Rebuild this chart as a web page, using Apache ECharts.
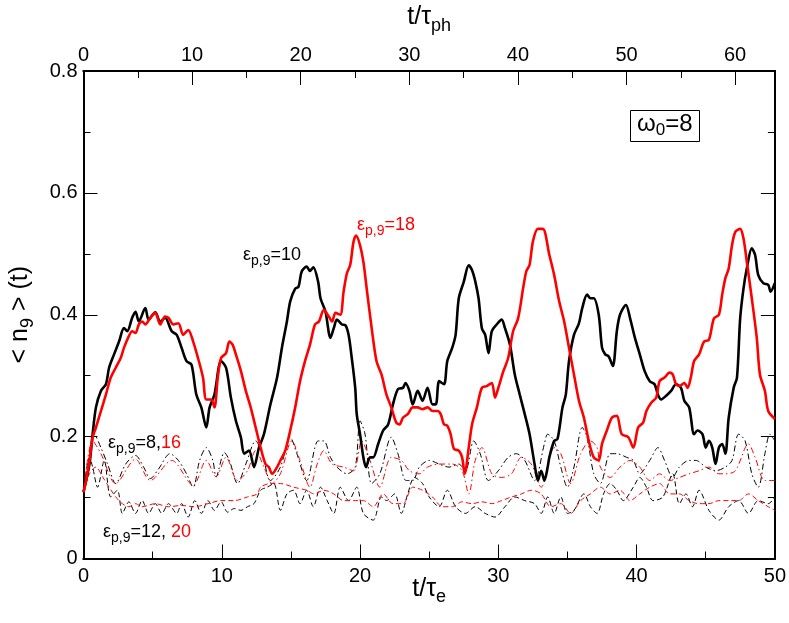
<!DOCTYPE html>
<html>
<head>
<meta charset="utf-8">
<script src="https://cdn.jsdelivr.net/npm/echarts@6/dist/echarts.min.js"></script>
<style>
  html, body { margin: 0; background: #fff; }
  #chart { width: 789px; height: 623px; }
</style>
</head>
<body>
<div id="chart"></div>
<script>
// <n_9>(t), pairs of [t/tau_e, value]
var eps10 = [[0,0.109],[0.43,0.155],[0.66,0.204],[0.9,0.248],[1.26,0.275],[1.62,0.286],[1.85,0.313],[2.21,0.335],[2.57,0.356],[2.93,0.378],[3.16,0.373],[3.52,0.395],[3.76,0.405],[4.0,0.389],[4.47,0.411],[4.71,0.392],[5.19,0.404],[5.55,0.389],[5.9,0.395],[6.38,0.373],[6.74,0.367],[7.09,0.346],[7.45,0.324],[7.81,0.318],[8.16,0.269],[8.52,0.248],[8.88,0.215],[9.12,0.248],[9.47,0.269],[9.95,0.324],[10.31,0.313],[10.66,0.264],[11.02,0.226],[11.38,0.199],[11.62,0.172],[11.97,0.177],[12.33,0.15],[12.69,0.182],[13.05,0.204],[13.52,0.253],[14.0,0.297],[14.35,0.346],[14.71,0.389],[14.95,0.422],[15.31,0.443],[15.55,0.446],[15.78,0.471],[16.14,0.479],[16.38,0.472],[16.62,0.478],[16.97,0.454],[17.14,0.427],[17.5,0.405],[17.86,0.362],[18.1,0.378],[18.33,0.392],[18.69,0.384],[18.93,0.383],[19.17,0.367],[19.4,0.329],[19.65,0.28],[19.76,0.237],[20.0,0.204],[20.24,0.166],[20.43,0.15],[20.72,0.166],[20.95,0.166],[21.31,0.188],[21.67,0.21],[22.03,0.22],[22.38,0.253],[22.74,0.278],[23.1,0.28],[23.29,0.288],[23.57,0.275],[23.81,0.253],[24.17,0.275],[24.52,0.259],[24.88,0.28],[25.24,0.253],[25.48,0.253],[25.72,0.291],[26.07,0.286],[26.31,0.324],[26.67,0.346],[26.91,0.367],[27.14,0.427],[27.5,0.454],[27.86,0.481],[28.1,0.473],[28.34,0.454],[28.57,0.427],[28.81,0.378],[29.05,0.367],[29.29,0.337],[29.53,0.373],[29.88,0.384],[30.24,0.392],[30.48,0.378],[30.84,0.351],[31.19,0.302],[31.55,0.269],[31.91,0.237],[32.26,0.204],[32.62,0.155],[32.86,0.128],[33.1,0.144],[33.33,0.128],[33.57,0.15],[33.69,0.166],[34.04,0.193],[34.28,0.196],[34.64,0.248],[34.88,0.269],[35.11,0.324],[35.47,0.367],[35.83,0.386],[36.07,0.411],[36.42,0.433],[36.66,0.427],[36.9,0.427],[37.26,0.4],[37.5,0.346],[37.73,0.335],[37.97,0.332],[38.28,0.316],[38.57,0.373],[38.8,0.4],[39.23,0.416],[39.52,0.395],[39.88,0.362],[40.23,0.335],[40.59,0.307],[40.95,0.291],[41.3,0.286],[41.54,0.269],[41.78,0.261],[42.14,0.267],[42.49,0.275],[42.85,0.286],[43.21,0.28],[43.45,0.259],[43.8,0.248],[44.16,0.204],[44.4,0.21],[44.76,0.204],[45.0,0.182],[45.23,0.193],[45.47,0.182],[45.71,0.155],[45.95,0.182],[46.19,0.188],[46.42,0.172],[46.66,0.231],[47.02,0.28],[47.26,0.297],[47.49,0.394],[47.73,0.443],[47.97,0.476],[48.33,0.509],[48.57,0.498],[48.8,0.465],[49.16,0.452],[49.52,0.449],[49.69,0.438],[50.0,0.452]];
var eps18 = [[0,0.109],[0.19,0.128],[0.43,0.161],[0.66,0.199],[0.9,0.215],[1.26,0.242],[1.62,0.269],[1.97,0.297],[2.33,0.313],[2.69,0.329],[2.93,0.346],[3.28,0.365],[3.52,0.373],[3.76,0.37],[4.0,0.384],[4.24,0.389],[4.47,0.384],[4.83,0.395],[5.19,0.403],[5.55,0.384],[5.9,0.397],[6.14,0.395],[6.5,0.384],[6.86,0.386],[7.21,0.367],[7.57,0.375],[7.93,0.356],[8.28,0.329],[8.64,0.297],[8.88,0.261],[9.24,0.261],[9.47,0.248],[9.71,0.297],[9.95,0.329],[10.31,0.337],[10.55,0.356],[10.78,0.351],[11.02,0.335],[11.38,0.308],[11.74,0.275],[12.09,0.248],[12.45,0.215],[12.81,0.182],[13.16,0.155],[13.4,0.15],[13.64,0.139],[14.0,0.15],[14.24,0.161],[14.59,0.177],[14.95,0.21],[15.31,0.248],[15.66,0.291],[16.02,0.324],[16.38,0.351],[16.74,0.384],[17.03,0.389],[17.38,0.408],[17.74,0.397],[17.98,0.389],[18.22,0.403],[18.57,0.4],[18.81,0.438],[19.05,0.468],[19.29,0.482],[19.53,0.52],[19.72,0.53],[20.0,0.514],[20.24,0.487],[20.48,0.443],[20.84,0.378],[21.19,0.324],[21.55,0.302],[21.91,0.269],[22.26,0.248],[22.62,0.223],[22.86,0.22],[23.1,0.231],[23.45,0.237],[23.81,0.248],[24.17,0.248],[24.52,0.245],[24.88,0.248],[25.24,0.242],[25.6,0.242],[25.83,0.237],[26.07,0.22],[26.31,0.218],[26.55,0.204],[26.79,0.18],[27.14,0.177],[27.38,0.166],[27.57,0.139],[27.86,0.182],[28.1,0.22],[28.45,0.248],[28.81,0.28],[29.17,0.283],[29.53,0.288],[29.76,0.264],[30.0,0.28],[30.36,0.307],[30.71,0.329],[31.07,0.373],[31.43,0.394],[31.79,0.443],[32.02,0.471],[32.26,0.482],[32.5,0.52],[32.86,0.541],[33.22,0.541],[33.69,0.498],[34.04,0.465],[34.4,0.422],[34.76,0.389],[35.11,0.346],[35.47,0.302],[35.83,0.259],[36.19,0.231],[36.54,0.193],[36.9,0.166],[37.26,0.161],[37.5,0.188],[37.85,0.21],[38.21,0.231],[38.57,0.234],[38.92,0.204],[39.4,0.199],[39.76,0.182],[40.11,0.215],[40.47,0.223],[40.71,0.242],[41.07,0.256],[41.42,0.264],[41.66,0.291],[42.02,0.297],[42.38,0.305],[42.61,0.302],[42.85,0.286],[43.09,0.283],[43.45,0.288],[43.69,0.28],[43.92,0.297],[44.16,0.324],[44.52,0.335],[44.88,0.356],[45.23,0.359],[45.59,0.394],[45.95,0.4],[46.19,0.433],[46.42,0.46],[46.66,0.476],[46.9,0.514],[47.14,0.536],[47.49,0.541],[47.73,0.525],[47.97,0.487],[48.33,0.427],[48.69,0.362],[48.92,0.302],[49.28,0.275],[49.52,0.242],[50.0,0.229]];
var eps8 = [[0,0.109],[0.31,0.15],[0.78,0.204],[1.26,0.182],[1.74,0.155],[2.33,0.123],[3.05,0.155],[3.76,0.169],[4.35,0.15],[4.83,0.131],[5.43,0.147],[6.26,0.172],[6.86,0.161],[7.45,0.139],[7.93,0.117],[8.4,0.161],[8.88,0.182],[9.35,0.161],[9.59,0.134],[10.19,0.174],[10.55,0.161],[11.14,0.123],[11.74,0.155],[12.45,0.193],[12.93,0.172],[13.52,0.128],[14.24,0.15],[14.95,0.199],[15.43,0.172],[16.14,0.128],[16.97,0.193],[17.38,0.193],[17.86,0.166],[18.33,0.15],[19.05,0.139],[19.65,0.15],[20.0,0.226],[20.36,0.204],[20.84,0.123],[21.43,0.139],[22.26,0.199],[22.74,0.172],[23.33,0.128],[23.81,0.128],[24.29,0.15],[25.0,0.161],[25.72,0.155],[26.43,0.15],[27.14,0.155],[27.62,0.144],[28.22,0.193],[28.69,0.172],[29.29,0.128],[30.0,0.144],[30.71,0.166],[31.31,0.172],[31.91,0.161],[32.62,0.128],[33.33,0.188],[33.57,0.204],[34.04,0.193],[34.52,0.15],[35.0,0.117],[35.47,0.15],[36.07,0.215],[36.42,0.199],[36.9,0.139],[37.38,0.123],[38.09,0.172],[38.57,0.172],[39.28,0.166],[39.76,0.161],[40.23,0.139],[40.95,0.161],[41.54,0.182],[42.02,0.161],[42.61,0.133],[43.09,0.15],[43.8,0.161],[44.28,0.161],[45.0,0.15],[45.71,0.144],[46.42,0.15],[46.9,0.161],[47.38,0.204],[47.85,0.193],[48.33,0.139],[48.8,0.117],[49.28,0.172],[49.64,0.204],[50.0,0.193]];
var eps16 = [[0,0.109],[0.66,0.193],[1.26,0.172],[2.33,0.123],[3.76,0.163],[4.83,0.128],[6.38,0.161],[7.93,0.12],[8.88,0.161],[9.59,0.134],[10.31,0.166],[11.14,0.128],[11.86,0.144],[12.45,0.177],[13.05,0.15],[13.64,0.123],[14.24,0.139],[15.07,0.193],[15.66,0.161],[16.38,0.117],[16.9,0.155],[17.38,0.177],[17.98,0.155],[18.81,0.15],[19.53,0.144],[20.12,0.193],[20.72,0.161],[21.43,0.117],[22.26,0.166],[22.98,0.161],[23.57,0.144],[24.29,0.139],[24.88,0.15],[25.72,0.155],[26.67,0.155],[27.38,0.144],[27.86,0.106],[28.33,0.161],[28.81,0.182],[29.53,0.139],[30.24,0.133],[30.95,0.139],[31.67,0.166],[32.38,0.155],[33.1,0.117],[34.04,0.182],[34.52,0.172],[35.23,0.123],[35.95,0.172],[36.66,0.193],[37.14,0.182],[37.38,0.15],[38.09,0.133],[38.8,0.15],[39.52,0.161],[40.23,0.15],[40.95,0.128],[41.66,0.139],[42.38,0.128],[43.09,0.133],[43.8,0.139],[44.52,0.144],[45.23,0.15],[45.95,0.139],[46.42,0.139],[47.14,0.144],[48.09,0.188],[48.57,0.166],[49.28,0.128],[50.0,0.128]];
var eps12 = [[0,0.109],[0.43,0.166],[0.66,0.15],[1.02,0.117],[1.5,0.161],[1.97,0.101],[2.45,0.112],[2.81,0.074],[3.28,0.093],[3.76,0.074],[4.24,0.095],[4.71,0.074],[5.19,0.09],[5.67,0.074],[6.14,0.09],[6.74,0.074],[7.09,0.09],[7.57,0.068],[8.05,0.095],[8.52,0.074],[9.0,0.095],[9.47,0.079],[9.95,0.093],[10.43,0.076],[10.9,0.082],[11.38,0.079],[11.86,0.085],[12.33,0.09],[12.81,0.112],[13.28,0.117],[13.76,0.123],[14.24,0.079],[14.71,0.106],[15.19,0.112],[15.66,0.09],[16.14,0.112],[16.62,0.085],[17.14,0.117],[17.62,0.095],[18.1,0.074],[18.57,0.117],[19.17,0.095],[19.76,0.117],[20.24,0.074],[20.95,0.063],[21.55,0.101],[21.91,0.095],[22.5,0.106],[22.98,0.074],[23.45,0.106],[23.93,0.133],[24.52,0.123],[25.0,0.101],[25.72,0.085],[26.31,0.112],[26.91,0.085],[27.62,0.074],[28.33,0.085],[29.05,0.074],[29.76,0.068],[30.48,0.085],[31.19,0.101],[31.91,0.095],[32.62,0.09],[33.1,0.074],[33.57,0.101],[34.04,0.074],[34.52,0.101],[35.0,0.074],[35.47,0.079],[36.19,0.106],[36.66,0.085],[37.14,0.074],[37.61,0.106],[38.09,0.123],[38.57,0.112],[39.04,0.095],[39.76,0.117],[40.23,0.133],[40.71,0.117],[41.19,0.095],[41.9,0.101],[42.61,0.139],[43.09,0.09],[43.57,0.106],[44.04,0.085],[44.52,0.112],[45.23,0.079],[45.95,0.063],[46.66,0.085],[47.38,0.095],[48.09,0.074],[48.8,0.095],[49.52,0.09],[50.0,0.101]];
var eps20 = [[0,0.109],[0.43,0.139],[0.9,0.15],[1.38,0.134],[1.85,0.117],[2.33,0.101],[2.81,0.09],[3.28,0.085],[3.76,0.09],[4.24,0.085],[5.19,0.09],[6.14,0.085],[7.09,0.087],[8.05,0.085],[9.0,0.09],[9.95,0.095],[10.9,0.095],[11.86,0.101],[12.57,0.106],[12.81,0.117],[13.52,0.123],[14.24,0.123],[15.19,0.117],[16.14,0.112],[16.67,0.106],[17.38,0.112],[18.1,0.106],[18.81,0.095],[19.53,0.095],[20.24,0.095],[20.95,0.085],[21.67,0.106],[22.38,0.09],[23.1,0.09],[23.81,0.117],[24.52,0.112],[25.24,0.101],[25.95,0.085],[26.67,0.085],[27.38,0.093],[28.1,0.09],[28.81,0.093],[29.53,0.09],[30.24,0.095],[30.95,0.101],[31.67,0.106],[32.38,0.112],[33.1,0.106],[33.8,0.085],[34.52,0.09],[35.23,0.074],[35.95,0.095],[36.66,0.106],[37.38,0.117],[38.09,0.106],[38.8,0.112],[39.52,0.095],[40.23,0.106],[40.95,0.117],[41.66,0.123],[42.38,0.106],[43.09,0.106],[43.8,0.095],[44.52,0.09],[45.23,0.09],[45.95,0.095],[46.66,0.095],[47.38,0.095],[48.09,0.106],[48.8,0.095],[49.52,0.085],[50.0,0.079]];

// tick values
var yTicks = [0, 0.2, 0.4, 0.6, 0.8];
var tauRatio = 4 / Math.PI; // tau_e / tau_ph

var FONT = 'Liberation Sans, Arial, Helvetica, sans-serif';
var RED = '#ff0000';
var BLACK = '#000';

var chart = echarts.init(document.getElementById('chart'));

function subRich(size, subSize, drop, color) {
  var c = color || BLACK;
  return {
    m: { fontFamily: FONT, fontSize: size, fontWeight: 'normal', color: c },
    s: { fontFamily: FONT, fontSize: subSize, fontWeight: 'normal', color: c, padding: [drop, 0, 0, 0] },
    r: { fontFamily: FONT, fontSize: size, fontWeight: 'normal', color: RED }
  };
}

var tk = function (len) {
  return { show: true, inside: true, length: len, lineStyle: { color: BLACK, width: 1 } };
};
var edge = function () {
  return { show: true, onZero: false, lineStyle: { color: BLACK, width: 2 } };
};
var labelStyle = { fontFamily: FONT, fontSize: 20, color: BLACK };

// extra unlabeled axis on the same side, only for the short half-step ticks
function minorAxis(position, min, max, step) {
  return {
    type: 'value', position: position, min: min, max: max, interval: step,
    splitLine: { show: false }, axisLine: edge(), axisTick: tk(7),
    axisLabel: { show: false }
  };
}

// text annotations as titles
function note(text, left, top, color) {
  return {
    text: text, left: left, top: top, padding: 0,
    textStyle: { fontWeight: 'normal', rich: subRich(18, 14, 11, color) }
  };
}

function lineSeries(data, color, width, dash) {
  return {
    type: 'line',
    data: data,
    showSymbol: false,
    smooth: 0.3,
    lineStyle: { color: color, width: width, type: dash || 'solid' }
  };
}

var dashDot = [6, 3, 1.5, 3];
var dashed = [5, 3];

chart.setOption({
  animation: false,
  grid: { left: 76.7, right: 12.3, top: 68, bottom: 64.5 },
  title: [
    { text: '{m|ω}{s|0}{m|=8}', left: 630, top: 107, padding: [2, 7, 3, 7],
      borderColor: BLACK, borderWidth: 1, backgroundColor: '#fff',
      textStyle: { fontWeight: 'normal', rich: subRich(24, 17, 13) } },
    note('{m|ε}{s|p,9}{m|=10}', 243, 243),
    note('{m|ε}{s|p,9}{m|=18}', 357, 213, RED),
    note('{m|ε}{s|p,9}{m|=8,}{r|16}', 108, 431),
    note('{m|ε}{s|p,9}{m|=12, }{r|20}', 103, 520)
  ],
  xAxis: [
    { type: 'value', position: 'bottom', min: 0, max: 50, interval: 10, splitLine: { show: false },
      axisLine: edge(), axisTick: tk(14),
      axisLabel: Object.assign({ margin: 8 }, labelStyle),
      name: '{m|t/τ}{s|e}', nameLocation: 'middle', nameGap: 13, nameMoveOverlap: false,
      nameTextStyle: { rich: subRich(25, 18, 17) } },
    { type: 'value', position: 'top', min: 0, max: 50 * tauRatio, interval: 10, splitLine: { show: false },
      axisLine: edge(), axisTick: tk(14),
      axisLabel: Object.assign({ margin: 6, showMaxLabel: false }, labelStyle),
      name: '{m|t/τ}{s|ph}', nameLocation: 'middle', nameGap: 36,
      nameTextStyle: { rich: subRich(25, 18, 17) } },
    minorAxis('bottom', 0, 50, 5),
    minorAxis('top', 0, 50 * tauRatio, 5)
  ],
  yAxis: [
    { type: 'value', position: 'left', min: yTicks[0], max: yTicks[yTicks.length - 1], interval: 0.2,
      splitLine: { show: false },
      axisLine: edge(), axisTick: tk(14),
      axisLabel: Object.assign({ margin: 6,
        formatter: function (v) { return v === 0 ? '0' : v.toFixed(1); } }, labelStyle),
      name: '{m|< n}{s|9}{m| > (t)}', nameLocation: 'middle', nameGap: 46,
      nameTextStyle: { rich: subRich(25, 18, 16) } },
    { type: 'value', position: 'right', min: yTicks[0], max: yTicks[yTicks.length - 1], interval: 0.2,
      splitLine: { show: false },
      axisLine: edge(), axisTick: tk(14), axisLabel: { show: false } },
    minorAxis('left', 0, 0.8, 0.1),
    minorAxis('right', 0, 0.8, 0.1)
  ],
  series: [
    lineSeries(eps12, BLACK, 1, dashed),
    lineSeries(eps20, RED, 1, dashed),
    lineSeries(eps8, BLACK, 1, dashDot),
    lineSeries(eps16, RED, 1, dashDot),
    lineSeries(eps10, BLACK, 2.6),
    lineSeries(eps18, RED, 2.6)
  ]
});
</script>
</body>
</html>
